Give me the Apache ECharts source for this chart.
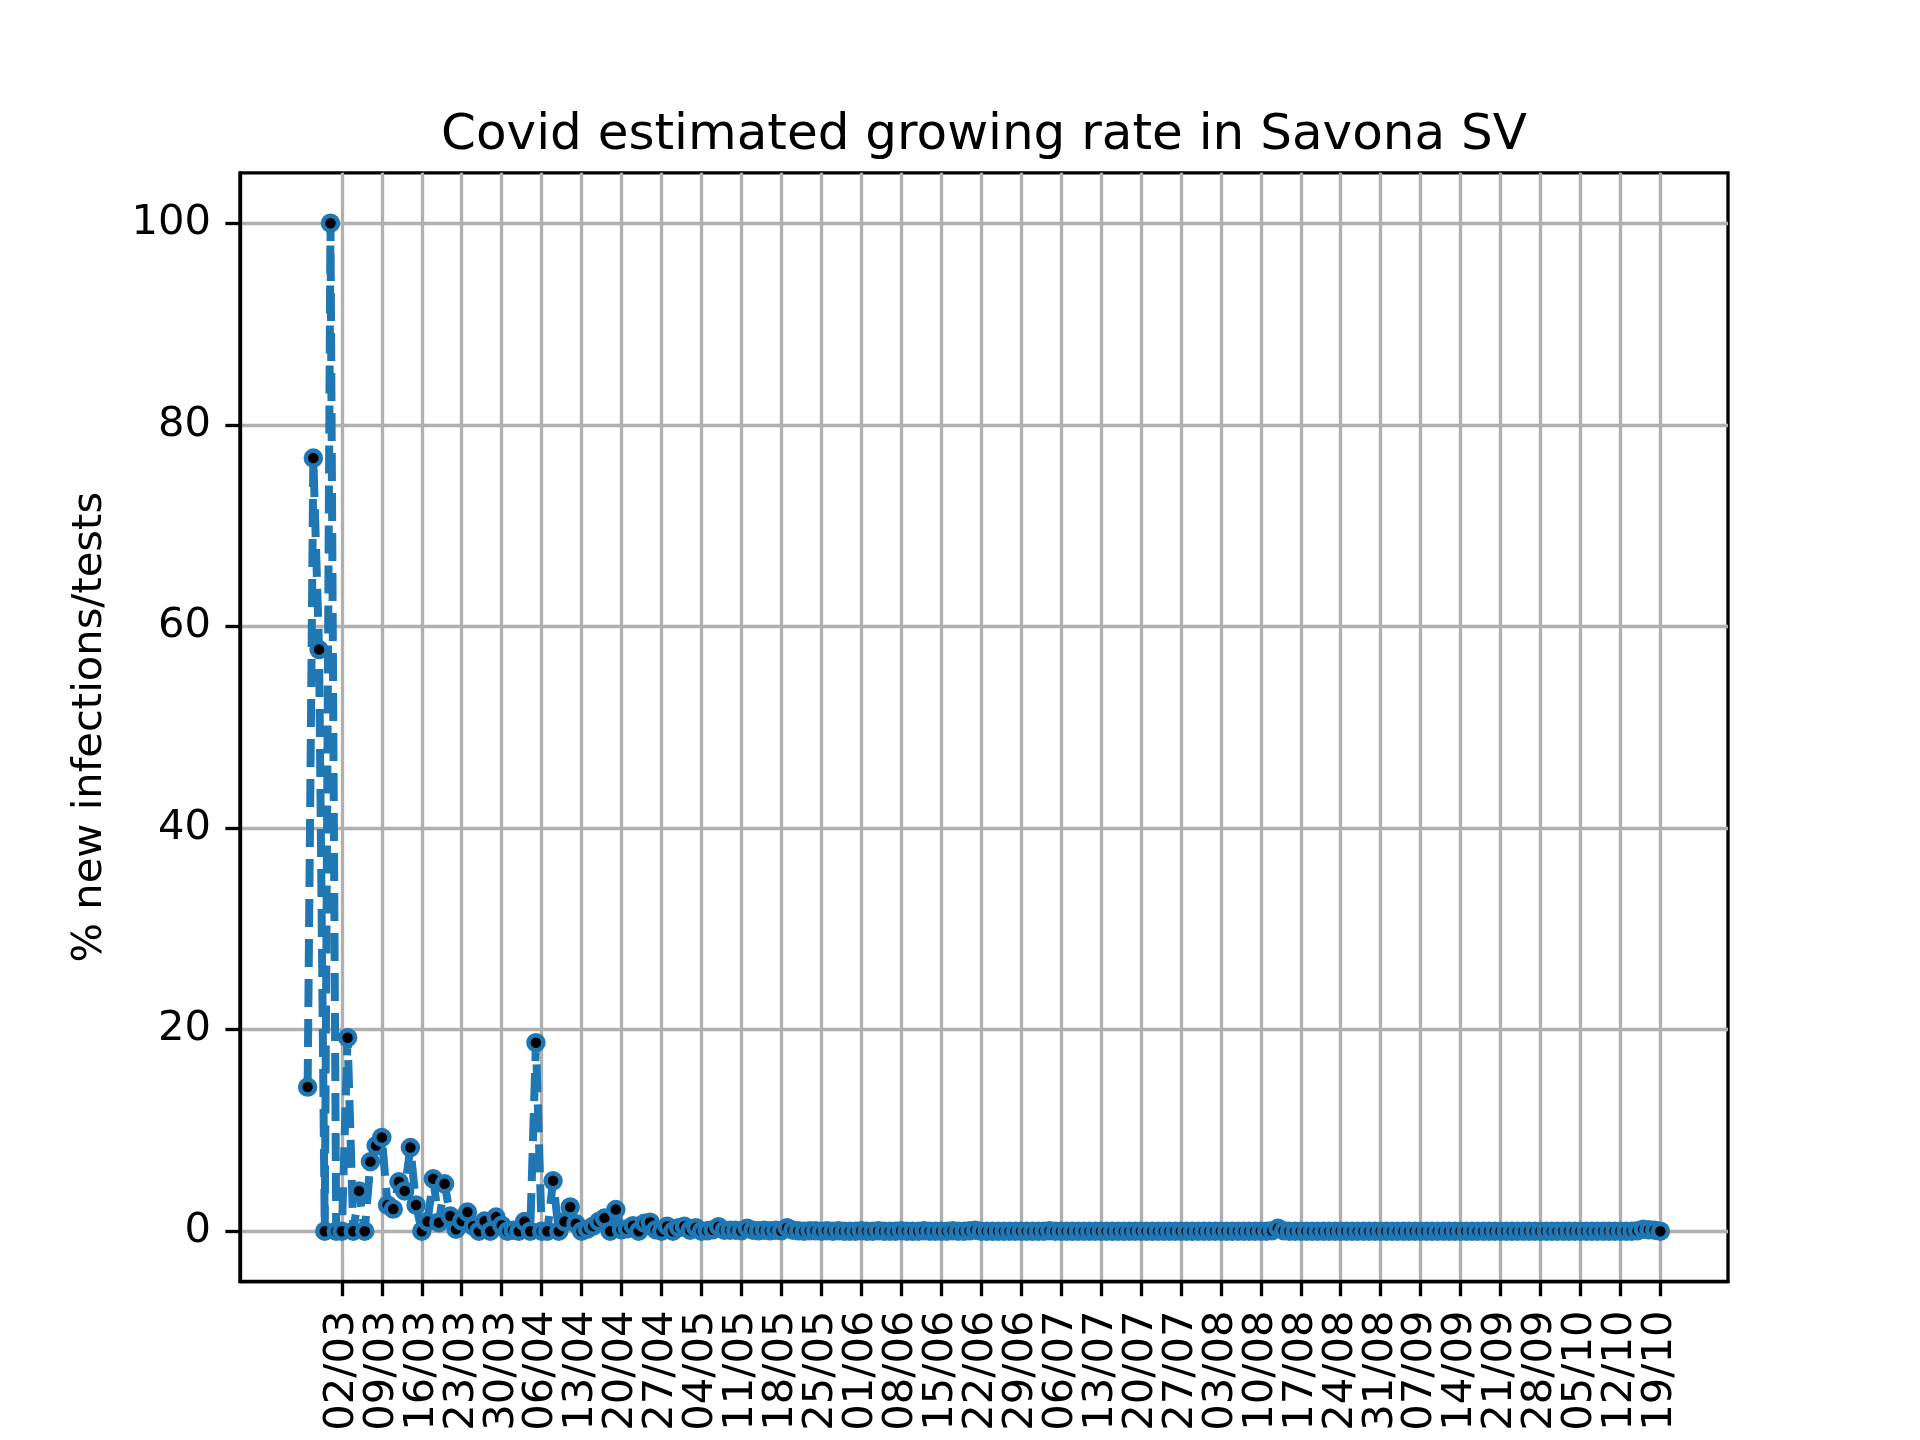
<!DOCTYPE html>
<html>
<head>
<meta charset="utf-8">
<script src="https://cdn.jsdelivr.net/npm/echarts@6/dist/echarts.min.js"></script>
<style>
    html, body { margin: 0; padding: 0; background: #fff; }
    #chart { width: 1920px; height: 1440px; }
</style>
</head>
<body>
<div id="chart"></div>
<script>
    // day offsets are counted from 02/03 (first weekly tick); first sample is 25/02
    var firstDay = -6;
    var weekStep = 7;

    // weekly tick labels (dd/mm)
    var tickLabels = ['02/03','09/03','16/03','23/03','30/03','06/04','13/04','20/04','27/04',
        '04/05','11/05','18/05','25/05','01/06','08/06','15/06','22/06','29/06','06/07',
        '13/07','20/07','27/07','03/08','10/08','17/08','24/08','31/08','07/09','14/09',
        '21/09','28/09','05/10','12/10','19/10'];

    var yTicks = [0, 20, 40, 60, 80, 100];

    // % new infections / tests, one value per day
    var rateStart = [14.3, 76.7, 57.7, 0, 100, 0];
    var rateMarApr = [
        0, 19.2, 0, 4.0, 0, 6.9, 8.5, 9.3, 2.6, 2.2,
        4.9, 4.0, 8.3, 2.6, 0, 0.95, 5.2, 0.85, 4.7, 1.5,
        0.2, 1.0, 1.9, 0.5, 0, 1.0, 0, 1.4, 0.6, 0,
        0.1, 0, 0.95, 0, 18.7, 0, 0, 5.0, 0, 0.95,
        2.4, 0.75, 0, 0.2, 0.5, 0.95, 1.3, 0, 2.15, 0.15,
        0.25, 0.55, 0, 0.8, 0.9, 0.15, 0, 0.5, 0, 0.35,
        0.5, 0.1, 0.35, 0, 0.05, 0.15, 0.45, 0.1, 0.1, 0.1
    ];
    var rateMayOct = [
        0.05, 0.3, 0.1, 0.05, 0.1, 0.05, 0.1, 0.05, 0.35, 0.1,
        0.05, 0, 0.05, 0.05, 0, 0.05, 0, 0.05, 0, 0,
        0, 0.05, 0, 0, 0.05, 0, 0, 0, 0.05, 0,
        0, 0, 0.05, 0, 0, 0, 0, 0.05, 0, 0,
        0.05, 0.1, 0, 0, 0, 0, 0, 0, 0, 0,
        0, 0, 0, 0, 0.05, 0, 0, 0, 0, 0,
        0, 0, 0, 0, 0, 0, 0, 0, 0, 0,
        0, 0, 0, 0, 0, 0, 0, 0, 0, 0,
        0, 0, 0, 0, 0, 0, 0, 0, 0, 0,
        0, 0, 0, 0.05, 0.3, 0.05, 0, 0, 0, 0,
        0, 0, 0, 0, 0, 0, 0, 0, 0, 0,
        0, 0, 0, 0, 0, 0, 0, 0, 0, 0,
        0, 0, 0, 0, 0, 0, 0, 0, 0, 0,
        0, 0, 0, 0, 0, 0, 0, 0, 0, 0,
        0, 0, 0, 0, 0, 0, 0, 0, 0, 0,
        0, 0, 0, 0, 0, 0, 0, 0.05, 0.2, 0.15,
        0.1, 0
    ];

    var rates = rateStart.concat(rateMarApr, rateMayOct);

    var seriesData = [];
    for (var i = 0; i < rates.length; i++) {
        seriesData.push([firstDay + i, rates[i]]);
    }
    var lastDay = firstDay + rates.length - 1;
    var xPad = (lastDay - firstDay) * 0.05;

    // all weekly ticks; labels split in two sets so echarts does not drop crowded ones
    var weekTicks = [], evenTicks = [], oddTicks = [];
    for (var k = 0; k < tickLabels.length; k++) {
        weekTicks.push(k * weekStep);
        if (k % 2 === 0) evenTicks.push(k * weekStep); else oddTicks.push(k * weekStep);
    }

    var font = 'DejaVu Sans';
    var lw = 3.33; // 0.8pt at 300dpi

    function weekLabel(v) {
        return tickLabels[Math.round(v / weekStep)];
    }

    function xLabelStyle(values) {
        return {
            customValues: values,
            showMinLabel: true,
            showMaxLabel: true,
            hideOverlap: false,
            rotate: 90,
            margin: 29,
            fontFamily: font,
            fontSize: 41.67,
            color: '#000',
            formatter: weekLabel
        };
    }

    var myChart = echarts.init(document.getElementById('chart'));
    var option = {
        animation: false,
        backgroundColor: '#fff',
        title: {
            text: 'Covid estimated growing rate in Savona SV',
            left: 984,
            top: 111,
            padding: 0,
            textAlign: 'center',
            textStyle: { fontFamily: font, fontSize: 50, fontWeight: 'normal', color: '#000' }
        },
        grid: {
            left: 240,
            right: 192,
            top: 172.8,
            bottom: 158.4,
            show: true,
            borderColor: '#000',
            borderWidth: lw,
            backgroundColor: 'transparent'
        },
        xAxis: [
            {
                type: 'value',
                position: 'bottom',
                min: firstDay - xPad,
                max: lastDay + xPad,
                axisLine: { show: true, onZero: false, lineStyle: { color: '#000', width: lw } },
                axisTick: { show: true, inside: false, length: 14.6, customValues: weekTicks,
                    lineStyle: { color: '#000', width: lw } },
                axisLabel: xLabelStyle(evenTicks),
                splitLine: { show: true, lineStyle: { color: '#b0b0b0', width: lw } }
            },
            {
                type: 'value',
                position: 'bottom',
                min: firstDay - xPad,
                max: lastDay + xPad,
                axisLine: { show: false },
                axisTick: { show: false },
                axisLabel: xLabelStyle(oddTicks),
                splitLine: { show: false }
            }
        ],
        yAxis: {
            type: 'value',
            min: -5,
            max: 105,
            name: '% new infections/tests',
            nameLocation: 'middle',
            nameRotate: 90,
            nameGap: 129,
            nameTextStyle: { fontFamily: font, fontSize: 41.67, color: '#000' },
            axisLine: { show: true, onZero: false, lineStyle: { color: '#000', width: lw } },
            axisTick: { show: true, inside: false, length: 14.6, customValues: yTicks,
                lineStyle: { color: '#000', width: lw } },
            axisLabel: {
                customValues: yTicks,
                showMinLabel: true,
                showMaxLabel: true,
                margin: 29,
                fontFamily: font,
                fontSize: 41.67,
                color: '#000'
            },
            splitLine: { show: true, lineStyle: { color: '#b0b0b0', width: lw } }
        },
        series: [
            {
                type: 'line',
                xAxisIndex: 0,
                data: seriesData,
                showSymbol: true,
                showAllSymbol: true,
                symbol: 'circle',
                symbolSize: 15,
                itemStyle: { color: '#000', borderColor: '#1f77b4', borderWidth: 4.5 },
                lineStyle: { color: '#1f77b4', width: 8, type: [28, 12] },
                emphasis: { disabled: true }
            }
        ]
    };
    myChart.setOption(option);
</script>
</body>
</html>
